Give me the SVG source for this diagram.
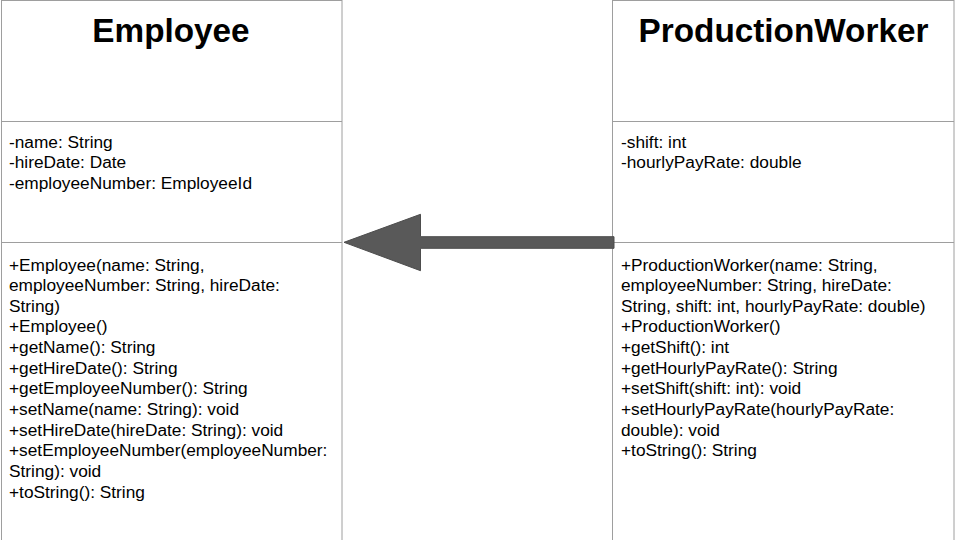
<svg xmlns="http://www.w3.org/2000/svg" width="960" height="540" viewBox="0 0 960 540">
<style>
.box{fill:#ffffff;stroke:#9e9e9e;stroke-width:1}
.div{stroke:#9e9e9e;stroke-width:1}
.title{font-family:"Liberation Sans",Arial,sans-serif;font-size:33.3px;font-weight:bold;fill:#000;text-anchor:middle}
.t{font-family:"Liberation Sans",Arial,sans-serif;font-size:17.3px;fill:#000}
.arrow{fill:#595959;stroke:#4d4d4d;stroke-width:1}
</style>
<rect width="960" height="540" fill="#ffffff"/>
<g id="employee">
<rect class="box" x="1.5" y="0.5" width="340.5" height="560"/>
<line class="div" x1="1.5" y1="121.5" x2="342" y2="121.5"/>
<line class="div" x1="1.5" y1="242.5" x2="342" y2="242.5"/>
<text class="title" x="171" y="41.7">Employee</text>
<text class="t" x="9" y="147.8">-name: String</text>
<text class="t" x="9" y="168.4">-hireDate: Date</text>
<text class="t" x="9" y="189">-employeeNumber: EmployeeId</text>
<text class="t" x="9" y="270.5">+Employee(name: String,</text>
<text class="t" x="9" y="291.1">employeeNumber: String, hireDate:</text>
<text class="t" x="9" y="311.8">String)</text>
<text class="t" x="9" y="332.4">+Employee()</text>
<text class="t" x="9" y="353">+getName(): String</text>
<text class="t" x="9" y="373.7">+getHireDate(): String</text>
<text class="t" x="9" y="394.3">+getEmployeeNumber(): String</text>
<text class="t" x="9" y="414.9">+setName(name: String): void</text>
<text class="t" x="9" y="435.5">+setHireDate(hireDate: String): void</text>
<text class="t" x="9" y="456.2">+setEmployeeNumber(employeeNumber:</text>
<text class="t" x="9" y="476.8">String): void</text>
<text class="t" x="9" y="497.5">+toString(): String</text>
</g>
<g id="productionworker">
<rect class="box" x="612.5" y="0.5" width="341.5" height="560"/>
<line class="div" x1="612.5" y1="121.5" x2="954" y2="121.5"/>
<line class="div" x1="612.5" y1="242.5" x2="954" y2="242.5"/>
<text class="title" x="783.5" y="41.7">ProductionWorker</text>
<text class="t" x="621" y="147.8">-shift: int</text>
<text class="t" x="621" y="168.4">-hourlyPayRate: double</text>
<text class="t" x="621" y="270.5">+ProductionWorker(name: String,</text>
<text class="t" x="621" y="291.1">employeeNumber: String, hireDate:</text>
<text class="t" x="621" y="311.8">String, shift: int, hourlyPayRate: double)</text>
<text class="t" x="621" y="332.4">+ProductionWorker()</text>
<text class="t" x="621" y="353">+getShift(): int</text>
<text class="t" x="621" y="373.7">+getHourlyPayRate(): String</text>
<text class="t" x="621" y="394.3">+setShift(shift: int): void</text>
<text class="t" x="621" y="414.9">+setHourlyPayRate(hourlyPayRate:</text>
<text class="t" x="621" y="435.5">double): void</text>
<text class="t" x="621" y="456.2">+toString(): String</text>
</g>
<g id="connectors">
<path class="arrow" d="M614 236.7 L420.5 236.7 L420.5 214.3 L344 242.3 L420.5 270.7 L420.5 248.3 L614 248.3 Z"/>
</g>
</svg>
